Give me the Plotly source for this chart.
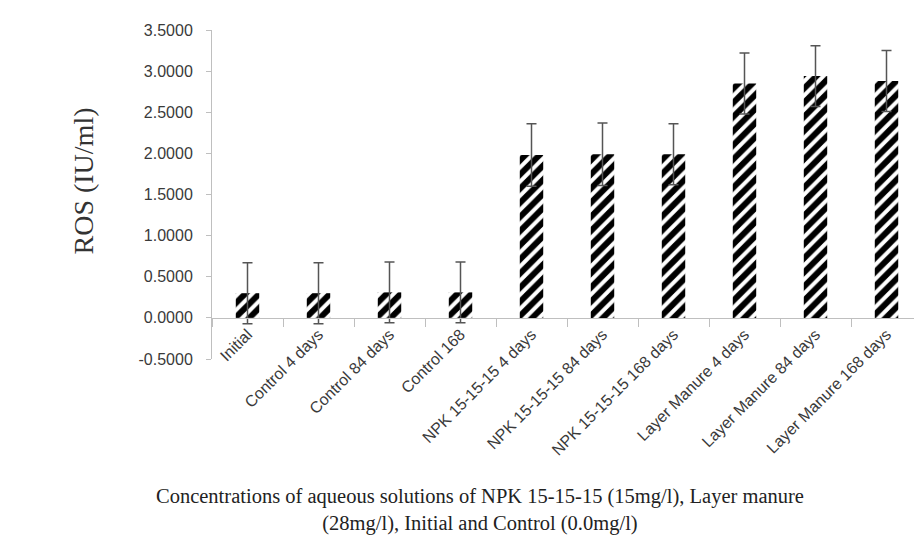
import plotly.graph_objects as go

categories = ["Initial", "Control 4 days", "Control 84 days", "Control 168",
              "NPK 15-15-15 4 days", "NPK 15-15-15 84 days", "NPK 15-15-15 168 days",
              "Layer Manure 4 days", "Layer Manure 84 days", "Layer Manure 168 days"]
ros_values = [0.30, 0.30, 0.31, 0.31, 1.98, 1.99, 1.99, 2.85, 2.94, 2.88]
ros_errors = [0.37, 0.37, 0.37, 0.37, 0.38, 0.38, 0.37, 0.37, 0.37, 0.37]
y_tick_values = [-0.5, 0.0, 0.5, 1.0, 1.5, 2.0, 2.5, 3.0, 3.5]
y_tick_labels = ["-0.5000", "0.0000", "0.5000", "1.0000", "1.5000", "2.0000", "2.5000", "3.0000", "3.5000"]

fig = go.Figure()
fig.add_trace(go.Bar(
    x=categories, y=ros_values,
    width=0.33,
    marker=dict(color="white", line=dict(width=0),
                pattern=dict(shape="/", fgcolor="black", bgcolor="white", fgopacity=1,
                             size=10, solidity=0.6)),
    error_y=dict(type="data", array=ros_errors, visible=True, color="#555555", thickness=1.5, width=5),
))

fig.update_layout(
    width=914, height=536,
    margin=dict(l=204, r=0, t=22, b=185),
    plot_bgcolor="white", paper_bgcolor="white",
    showlegend=False,
)
fig.update_yaxes(
    range=[-0.5, 3.5], tickvals=y_tick_values, ticktext=y_tick_labels,
    showline=True, linecolor="#bfbfbf", linewidth=1,
    ticks="outside", ticklen=5, tickcolor="#bfbfbf",
    showgrid=False, zeroline=False, automargin=False,
    ticklabelstandoff=10,
    tickfont=dict(family="Liberation Sans, Arial", size=16, color="#3a3a3a"),
)
fig.update_xaxes(
    anchor="free", position=0.125,
    showline=True, linecolor="#bfbfbf", linewidth=1,
    ticks="outside", ticklen=8, tickcolor="#bfbfbf", tickson="boundaries",
    tickangle=-45, showgrid=False, zeroline=False, automargin=False,
    tickfont=dict(family="Liberation Sans, Arial", size=16, color="#3a3a3a"),
    range=[-0.5, 9.5],
)
fig.add_annotation(
    text="ROS (IU/ml)", textangle=-90, xref="paper", yref="paper",
    x=-0.181, y=0.541, xanchor="center", yanchor="middle", showarrow=False,
    font=dict(family="Liberation Serif, Times New Roman", size=28, color="#333333"),
)
fig.add_annotation(
    text="Concentrations of aqueous solutions of NPK 15-15-15 (15mg/l), Layer manure<br>(28mg/l), Initial and Control (0.0mg/l)",
    xref="paper", yref="paper", x=0.377, y=-0.377, xanchor="center", yanchor="top",
    showarrow=False, align="center",
    font=dict(family="Liberation Serif, Times New Roman", size=20.5, color="#222222"),
)
fig.write_html("out.html")
